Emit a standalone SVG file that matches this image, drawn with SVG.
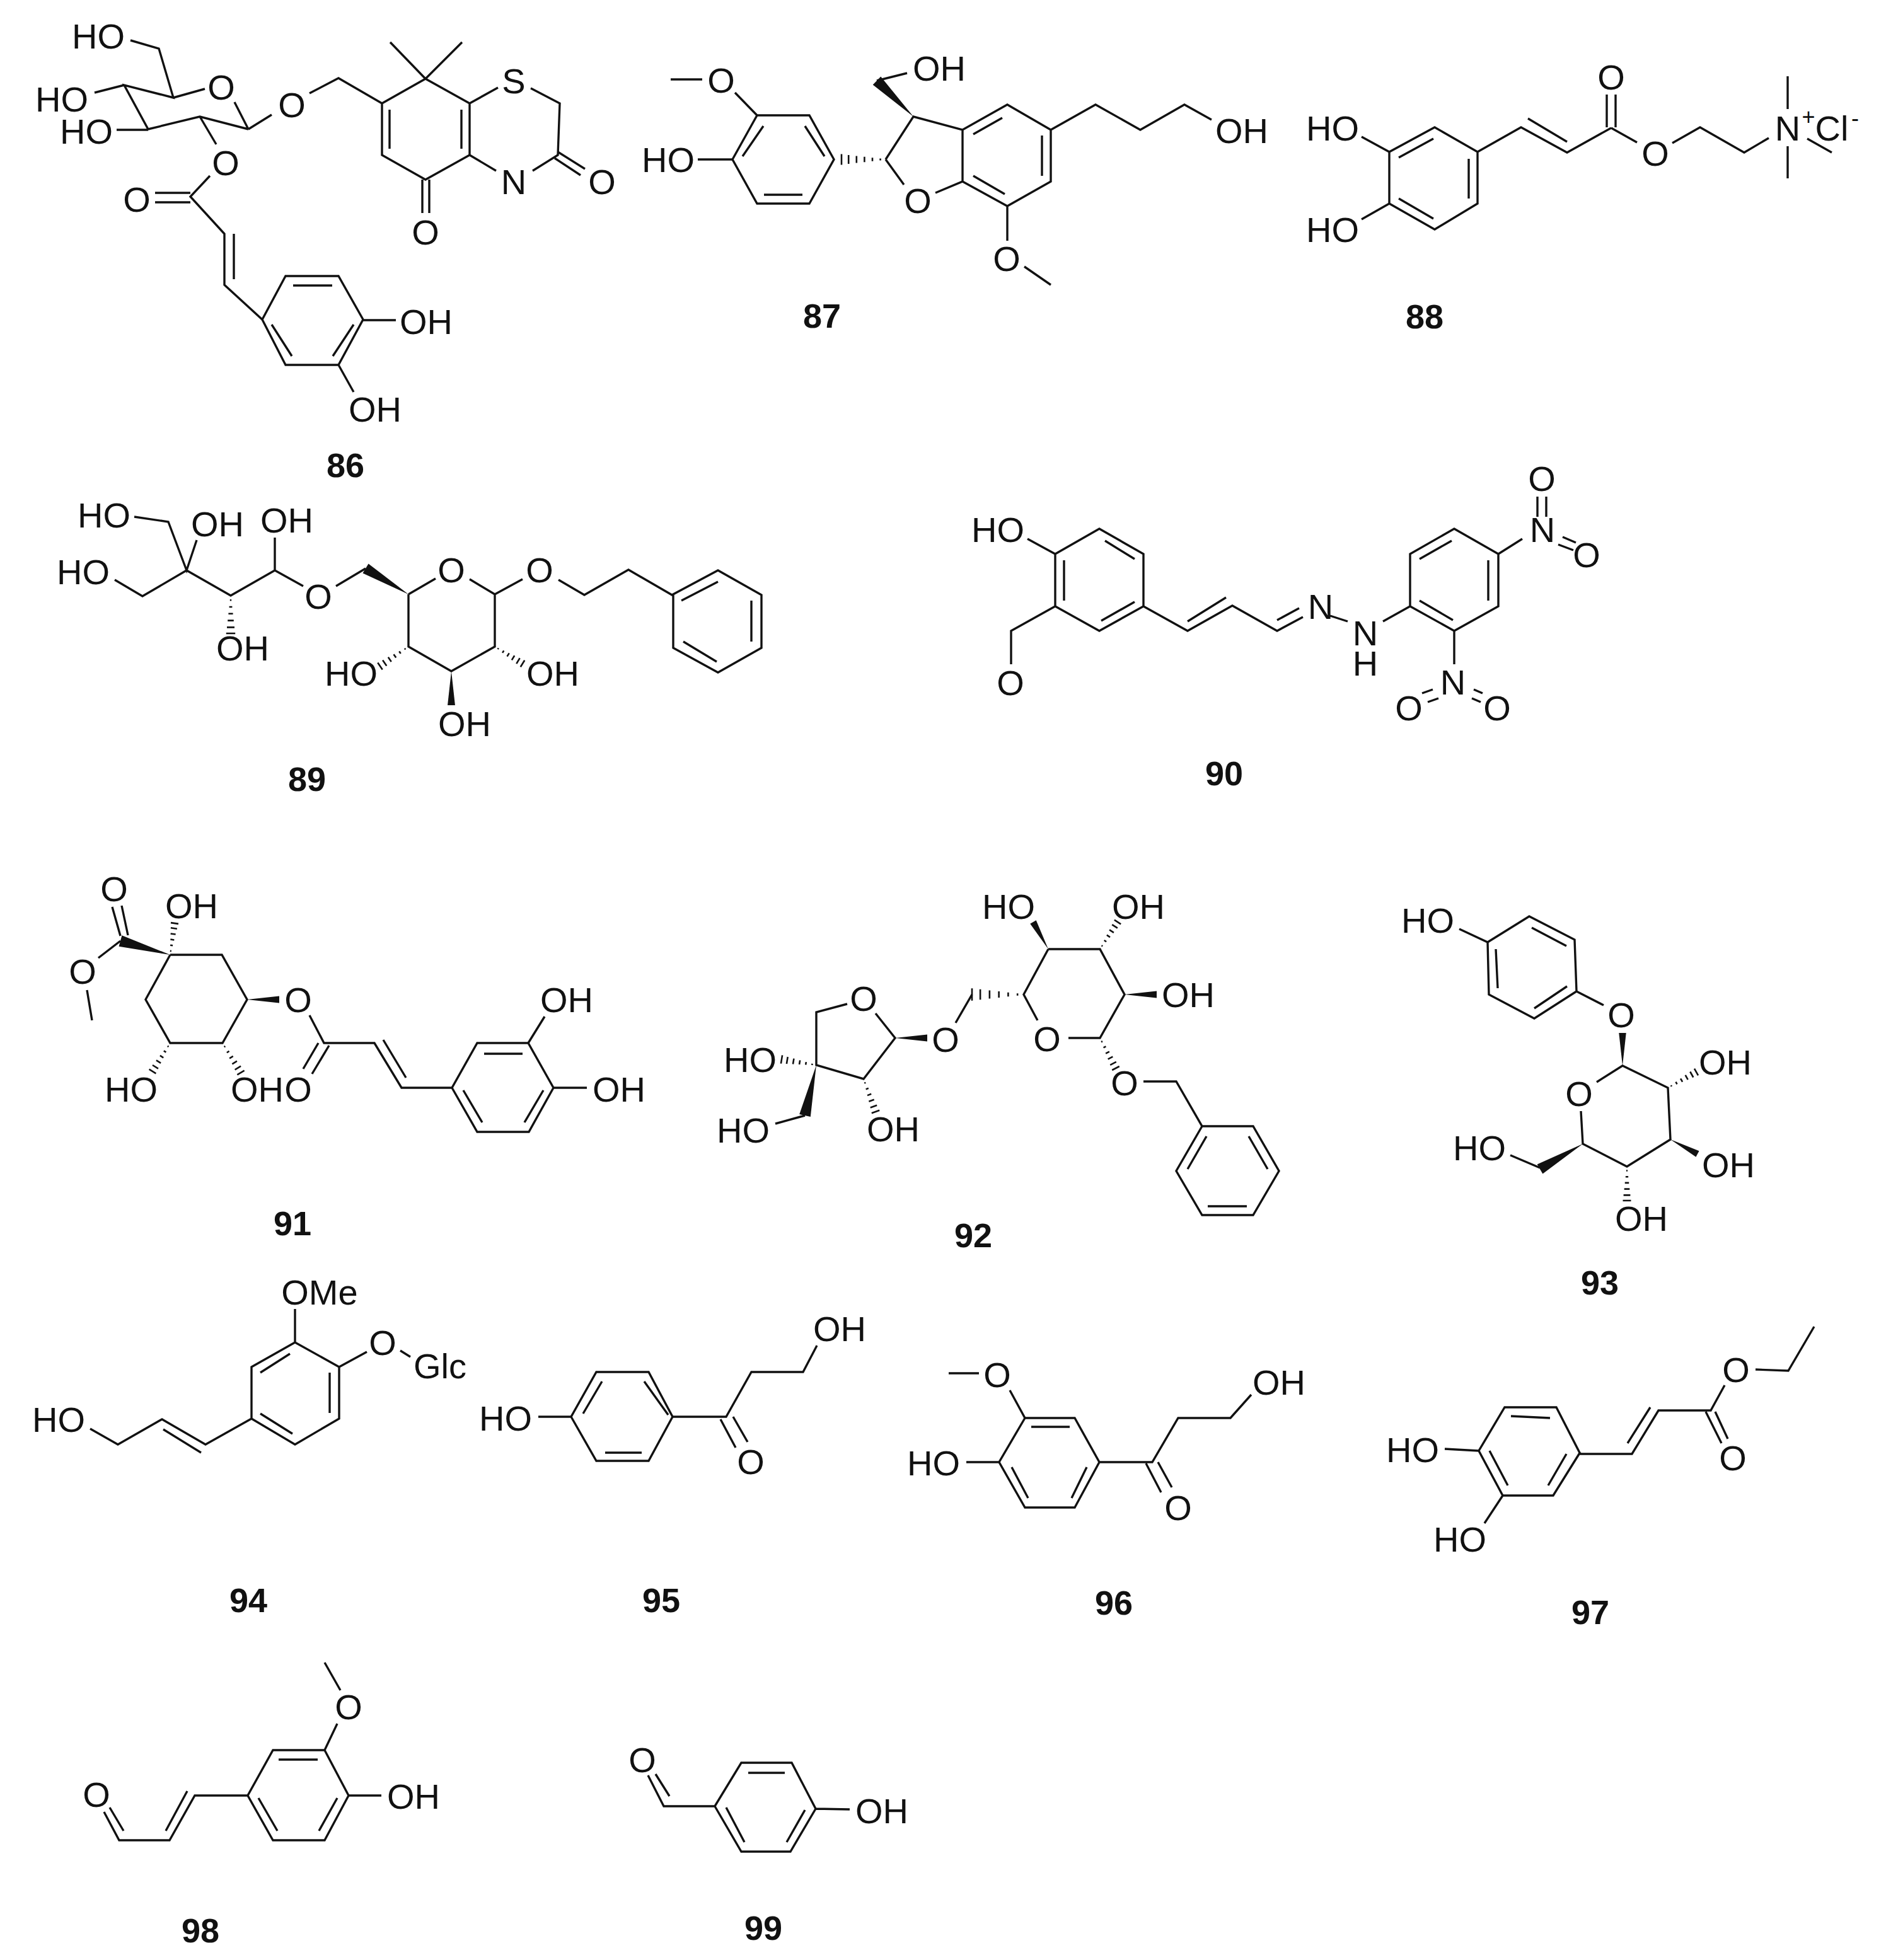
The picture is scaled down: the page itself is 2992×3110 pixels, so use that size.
<svg xmlns="http://www.w3.org/2000/svg" xmlns:xlink="http://www.w3.org/1999/xlink" width="2992" height="3110" viewBox="0 0 2992 3110">
<style>
.b{fill:none;stroke:#111;stroke-width:3.4;stroke-linecap:butt;stroke-linejoin:miter}
.t{font-family:"Liberation Sans",Arial,sans-serif;font-size:56px;text-anchor:middle;fill:#111}
.s{font-family:"Liberation Sans",Arial,sans-serif;font-size:36px;text-anchor:middle;fill:#111}
.n{font-family:"Liberation Sans",Arial,sans-serif;font-size:54px;font-weight:bold;text-anchor:middle;fill:#111}
.w{fill:#111;stroke:none}
.h{fill:none;stroke:#111;stroke-width:2.6}
#hv{vector-effect:non-scaling-stroke}
</style>
<defs>
<polygon id="wv" class="w" points="0,0 1,-.11 1,.11"/>
<path id="hv" class="h" d="M.12-.02V.02M.3-.04V.04M.48-.06V.06M.66-.08V.08M.84-.1V.1M1-.12V.12"/>
</defs>
<rect width="2992" height="3110" fill="#fff"/>
<g id="m86">
<path class="b" d="M207 64L252 77L275 155L197 135L235 205L317 185L394 205M275 155L325 141M372 162L394 205M197 135L150 147M235 206L185 206M394 205L431 182M491 148L537 124L606 164L675 125L745 164L745 246L675 285L606 246L606 164M675 125L619 67M675 125L733 67M618 174V236M732 174V236M745 164L790 139M842 140L888 164L885 246L845 271M745 246L787 271M885 241L928 268M880 251L921 278M670 285V338M681 285V338M317 185L343 229M333 279L302 312L356 371V452L416 507L453 438H537L576 507L537 579H453L416 507M246 306H302M246 321H302M371 371V443M465 453H527M431 515L463 565M561 515L528 565M576 508H628M537 579L561 622"/>
<text class="t" x="156" y="77">HO</text><text class="t" x="98" y="177">HO</text><text class="t" x="137" y="228">HO</text>
<text class="t" x="351" y="158">O</text><text class="t" x="463" y="186">O</text><text class="t" x="358" y="278">O</text><text class="t" x="217" y="336">O</text>
<text class="t" x="815" y="148">S</text><text class="t" x="815" y="308">N</text><text class="t" x="955" y="308">O</text><text class="t" x="675" y="388">O</text>
<text class="t" x="676" y="530">OH</text><text class="t" x="595" y="669">OH</text>
<text class="n" x="548" y="757">86</text>
</g>
<g id="m87">
<path class="b" d="M1064 126H1114M1166 147L1201 183H1284L1323 253L1284 323H1201L1162 253L1201 183M1211 200L1178 248M1277 200L1308 248M1212 309H1273M1107 253H1162M1405 253L1449 185L1527 206L1598 166L1667 206V288L1598 327L1527 288V206M1405 253L1434 293M1484 306L1527 288M1544 213L1590 187M1653 215V279M1544 279L1594 308M1391 128L1439 116M1667 206L1738 166L1809 206L1879 166L1922 190M1598 327V382M1625 423L1667 452"/>
<use xlink:href="#hv" href="#hv" transform="matrix(-70 0 0 -70 1405 253)"/>
<use href="#wv" transform="matrix(-58 -57 57 -58 1449 185)"/>
<text class="t" x="1144" y="147">O</text><text class="t" x="1490" y="128">OH</text><text class="t" x="1060" y="273">HO</text><text class="t" x="1456" y="338">O</text><text class="t" x="1970" y="227">OH</text><text class="t" x="1597" y="430">O</text>
<text class="n" x="1304" y="520">87</text>
</g>
<g id="m88">
<path class="b" d="M2160 217L2204 241L2276 202L2344 241V323L2276 364L2204 323V241M2219 250L2274 220M2330 252V315M2219 315L2274 347M2160 348L2204 323M2344 241L2413 202L2486 242L2556 203M2424 188L2486 225M2549 202V150M2563 202V150M2556 203L2597 226M2653 227L2697 202L2767 242L2806 219M2836 121V173M2836 232V283M2867 220L2906 242"/>
<text class="t" x="2114" y="223">HO</text><text class="t" x="2114" y="384">HO</text><text class="t" x="2556" y="142">O</text><text class="t" x="2626" y="263">O</text><text class="t" x="2836" y="223">N</text><text class="s" x="2869" y="198">+</text><text class="t" x="2906" y="223">Cl</text><text class="s" x="2943" y="200">-</text>
<text class="n" x="2260" y="521">88</text>
</g>
<g id="m89">
<path class="b" d="M213 820L267 828L296 905L312 857M182 920L226 946L296 905L366 945L436 905V853M436 905L481 930M533 930L580 902M648 943L691 918M745 919L785 943V1026L716 1065L648 1026V943M785 943L829 919M886 920L927 944L997 904L1066 944L1139 905L1208 944V1028L1139 1067L1068 1028V944M1081 953L1139 923M1192 953V1018M1084 1018L1137 1050"/>
<use href="#hv" transform="matrix(0 60 -60 0 366 945)"/>
<use href="#wv" transform="matrix(-68 -41 41 -68 648 943)"/>
<use href="#hv" transform="matrix(-45 31 -31 -45 648 1026)"/>
<use href="#hv" transform="matrix(44 27 -27 44 785 1026)"/>
<use href="#wv" transform="matrix(0 54 -54 0 716 1065)"/>
<text class="t" x="165" y="837">HO</text><text class="t" x="345" y="851">OH</text><text class="t" x="455" y="845">OH</text><text class="t" x="132" y="927">HO</text><text class="t" x="505" y="966">O</text><text class="t" x="716" y="924">O</text><text class="t" x="856" y="924">O</text><text class="t" x="385" y="1048">OH</text><text class="t" x="557" y="1088">HO</text><text class="t" x="877" y="1088">OH</text><text class="t" x="737" y="1168">OH</text>
<text class="n" x="487" y="1255">89</text>
</g>
<g id="m90">
<path class="b" d="M1630 855L1674 879L1744 839L1814 879V962L1744 1001L1674 962V879M1753 858L1800 887M1688 889V953M1747 985L1800 955M1674 962L1604 1001V1054M1814 962L1884 1001L1955 961L2026 1001L2067 979M1884 986L1945 948M2026 984L2061 965M2110 977L2138 986M2194 986L2237 962L2237 879L2307 839L2377 879V962L2307 1001L2237 962M2252 887L2303 858M2361 889V953M2252 953L2305 984M2377 879L2415 855M2439 788V820M2453 788V820M2472 864L2496 873M2479 852L2500 861M2307 1001V1054M2256 1100L2273 1094M2265 1114L2282 1108M2338 1094L2352 1100M2335 1108L2349 1114"/>
<text class="t" x="1583" y="860">HO</text><text class="t" x="1603" y="1103">O</text><text class="t" x="2095" y="982">N</text><text class="t" x="2166" y="1024">N</text><text class="t" x="2166" y="1072">H</text><text class="t" x="2447" y="860">N</text><text class="t" x="2446" y="779">O</text><text class="t" x="2517" y="900">O</text><text class="t" x="2305" y="1102">N</text><text class="t" x="2235" y="1143">O</text><text class="t" x="2375" y="1143">O</text>
<text class="n" x="1942" y="1246">90</text>
</g>
<g id="m91">
<path class="b" d="M178 1439L191 1485M193 1437L203 1484M191 1493L156 1520M138 1571L146 1619M270 1515H352L392 1586L353 1655H270L231 1586L270 1515M491 1611L514 1655H594L637 1726H717L757 1655H838L878 1726L839 1796H757L717 1726M505 1655L481 1696M522 1659L495 1704M608 1650L644 1710M768 1672H829M735 1730L765 1781M862 1730L832 1781M838 1655L864 1613M878 1726H931"/>
<use href="#wv" transform="matrix(-79 -22 22 -79 270 1515)"/>
<use href="#hv" transform="matrix(7 -50 50 7 270 1515)"/>
<use href="#wv" transform="matrix(51 0 0 51 392 1586)"/>
<use href="#hv" transform="matrix(-28 45 -45 -28 270 1655)"/>
<use href="#hv" transform="matrix(29 47 -47 29 353 1655)"/>
<text class="t" x="181" y="1430">O</text><text class="t" x="304" y="1457">OH</text><text class="t" x="131" y="1561">O</text><text class="t" x="473" y="1606">O</text><text class="t" x="899" y="1606">OH</text><text class="t" x="208" y="1748">HO</text><text class="t" x="408" y="1748">OH</text><text class="t" x="473" y="1748">O</text><text class="t" x="982" y="1748">OH</text>
<text class="n" x="464" y="1960">91</text>
</g>
<g id="m92">
<path class="b" d="M1663 1506H1745L1784 1578L1745 1647H1695M1646 1619L1624 1578L1663 1506M1542 1578L1516 1623M1389 1608L1420 1647L1370 1712L1295 1690V1606L1344 1593M1277 1770L1230 1783M1814 1716H1866L1907 1787H1988L2029 1858L1988 1928H1907L1866 1858L1907 1787M1981 1803L2011 1855M1916 1914H1978M1884 1855L1914 1803"/>
<use href="#wv" transform="matrix(-24 -43 43 -24 1663 1506)"/>
<use href="#hv" transform="matrix(28 -43 43 28 1745 1506)"/>
<use href="#wv" transform="matrix(51 0 0 51 1784 1578)"/>
<use href="#hv" transform="matrix(-82 0 0 -82 1624 1578)"/>
<use href="#wv" transform="matrix(51 0 0 51 1420 1647)"/>
<use href="#hv" transform="matrix(-55 -9 9 -55 1295 1690)"/>
<use href="#wv" transform="matrix(-18 80 -80 -18 1295 1690)"/>
<use href="#hv" transform="matrix(19 52 -52 19 1370 1712)"/>
<use href="#hv" transform="matrix(25 48 -48 25 1745 1647)"/>
<text class="t" x="1600" y="1458">HO</text><text class="t" x="1806" y="1458">OH</text><text class="t" x="1885" y="1598">OH</text><text class="t" x="1661" y="1668">O</text><text class="t" x="1500" y="1669">O</text><text class="t" x="1370" y="1604">O</text><text class="t" x="1190" y="1701">HO</text><text class="t" x="1179" y="1813">HO</text><text class="t" x="1417" y="1811">OH</text><text class="t" x="1784" y="1738">O</text>
<text class="n" x="1544" y="1979">92</text>
</g>
<g id="m93">
<path class="b" d="M2315 1474L2360 1495L2426 1454L2498 1491L2501 1573L2434 1616L2362 1578L2360 1495M2373 1506L2376 1568M2430 1472L2485 1501M2434 1600L2486 1565M2501 1573L2544 1595M2533 1717L2574 1691L2646 1726L2650 1808L2581 1851L2511 1815L2508 1763M2443 1853L2396 1833"/>
<use href="#wv" transform="matrix(0 -52 52 0 2574 1691)"/>
<use href="#hv" transform="matrix(45 -25 25 45 2646 1726)"/>
<use href="#wv" transform="matrix(43 23 -23 43 2650 1808)"/>
<use href="#hv" transform="matrix(0 54 -54 0 2581 1851)"/>
<use href="#wv" transform="matrix(-68 40 -40 -68 2511 1815)"/>
<text class="t" x="2265" y="1480">HO</text><text class="t" x="2572" y="1630">O</text><text class="t" x="2505" y="1755">O</text><text class="t" x="2737" y="1705">OH</text><text class="t" x="2742" y="1868">OH</text><text class="t" x="2604" y="1953">OH</text><text class="t" x="2347" y="1841">HO</text>
<text class="n" x="2538" y="2054">93</text>
</g>
<g id="m94">
<path class="b" d="M468 2077V2130L538 2169V2251L468 2292L399 2251V2169L468 2130M413 2178L460 2148M523 2178V2242M413 2243L464 2275M538 2169L582 2145M635 2143L651 2153M399 2251L326 2292L257 2252L187 2292L143 2267M259 2268L319 2305"/>
<text class="t" x="507" y="2070">OMe</text><text class="t" x="607" y="2150">O</text><text class="t" x="698" y="2187">Glc</text><text class="t" x="93" y="2272">HO</text>
<text class="n" x="394" y="2558">94</text>
</g>
<g id="m95">
<path class="b" d="M854 2248H906L946 2177H1029L1067 2248L1029 2318H946L906 2248M925 2243L955 2192M1022 2192L1060 2245M960 2305H1018M1067 2248H1152L1192 2177H1274L1296 2135M1143 2252L1167 2297M1163 2248L1186 2288"/>
<text class="t" x="802" y="2270">HO</text><text class="t" x="1332" y="2128">OH</text><text class="t" x="1191" y="2339">O</text>
<text class="n" x="1049" y="2558">95</text>
</g>
<g id="m96">
<path class="b" d="M1505 2179H1553M1602 2206L1626 2250H1705L1744 2320L1705 2392H1626L1585 2320L1626 2250M1636 2264H1697M1605 2328L1631 2377M1724 2328L1700 2377M1533 2320H1585M1744 2320H1828L1869 2250H1952L1985 2213M1818 2322L1842 2368M1837 2320L1859 2360"/>
<text class="t" x="1582" y="2201">O</text><text class="t" x="1481" y="2341">HO</text><text class="t" x="2029" y="2213">OH</text><text class="t" x="1869" y="2412">O</text>
<text class="n" x="1767" y="2562">96</text>
</g>
<g id="m97">
<path class="b" d="M2785 2173L2837 2175L2878 2105M2736 2198L2714 2238H2631L2589 2307H2507L2469 2233H2387L2346 2302L2384 2373H2464L2507 2304M2618 2233L2582 2290M2706 2240L2731 2290M2721 2240L2741 2283M2397 2247L2459 2250M2363 2302L2392 2357M2485 2307L2456 2357M2292 2299L2346 2302M2384 2373L2355 2417"/>
<text class="t" x="2754" y="2193">O</text><text class="t" x="2749" y="2333">O</text><text class="t" x="2241" y="2320">HO</text><text class="t" x="2316" y="2462">HO</text>
<text class="n" x="2523" y="2577">97</text>
</g>
<g id="m98">
<path class="b" d="M515 2638L540 2682M535 2735L515 2777H433L393 2849L433 2920H515L553 2849L515 2777M442 2792H504M410 2853L440 2905M535 2853L506 2905M553 2849H605M393 2849H309L269 2920H189L165 2875M297 2842L263 2905M196 2905L174 2868"/>
<text class="t" x="553" y="2728">O</text><text class="t" x="656" y="2870">OH</text><text class="t" x="153" y="2867">O</text>
<text class="n" x="318" y="3082">98</text>
</g>
<g id="m99">
<path class="b" d="M1028 2817L1053 2866H1134L1176 2797H1256L1294 2870L1254 2938H1176L1134 2866M1040 2815L1062 2850M1187 2813H1245M1152 2868L1181 2923M1277 2872L1248 2923M1294 2870L1348 2871"/>
<text class="t" x="1019" y="2812">O</text><text class="t" x="1399" y="2893">OH</text>
<text class="n" x="1211" y="3078">99</text>
</g>
</svg>
